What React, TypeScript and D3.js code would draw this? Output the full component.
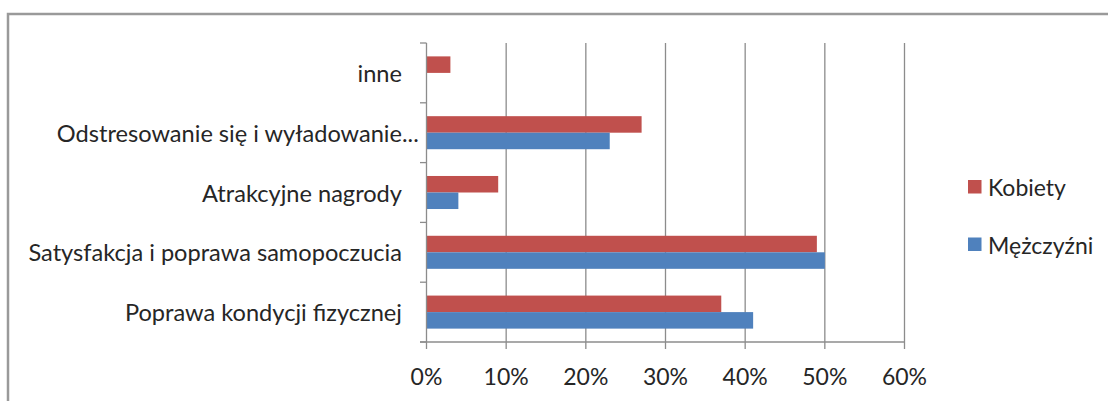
import React from 'react';
import * as d3 from 'd3';

const categories = [
  'Poprawa kondycji fizycznej',
  'Satysfakcja i poprawa samopoczucia',
  'Atrakcyjne nagrody',
  'Odstresowanie się i wyładowanie...',
  'inne',
];
const kobiety = [37, 49, 9, 27, 3];
const mezczyzni = [41, 50, 4, 23, 0];
const seriesNames = ['Kobiety', 'Mężczyźni'];
const seriesColors = ['#C0504D', '#4F81BD'];
const xTicks = [0, 10, 20, 30, 40, 50, 60];

const W = 1108;
const H = 401;
const FONT = 'Lato, "Open Sans", sans-serif';

export default function App() {
  const x = d3.scaleLinear().domain([0, 60]).range([426.5, 904.5]);
  const y = d3
    .scaleBand<string>()
    .domain([...categories].reverse())
    .range([43, 342])
    .paddingInner(0)
    .paddingOuter(0);
  const sub = d3
    .scaleBand<string>()
    .domain(seriesNames)
    .range([0, y.bandwidth()])
    .paddingInner(0)
    .paddingOuter(0.81);
  const values = [kobiety, mezczyzni];
  const boundaries = [...y.domain().map((c) => y(c) as number), 342];

  return (
    <svg
      width={W}
      height={H}
      style={{ position: 'absolute', left: 0, top: 0, background: '#fff' }}
      fontFamily={FONT}
    >
      <rect x={0} y={0} width={W} height={H} fill="#fff" />
      <rect x={8} y={14} width={1300} height={600} fill="none" stroke="#9a9a9a" strokeWidth={2.5} />
      {/* gridlines */}
      {xTicks.slice(1).map((t) => (
        <line key={'g' + t} x1={x(t)} x2={x(t)} y1={43} y2={342} stroke="#8c8c8c" strokeWidth={1.3} />
      ))}
      {/* x axis ticks */}
      {xTicks.map((t) => (
        <line key={'xt' + t} x1={x(t)} x2={x(t)} y1={342} y2={349} stroke="#8c8c8c" strokeWidth={1.3} />
      ))}
      {/* bars */}
      {categories.map((c, i) =>
        seriesNames.map((s, j) => (
          <rect
            key={c + s}
            x={x(0)}
            y={(y(c) as number) + (sub(s) as number)}
            width={x(values[j][i]) - x(0)}
            height={sub.bandwidth()}
            fill={seriesColors[j]}
          />
        ))
      )}
      {/* axes */}
      <line x1={x(0)} x2={x(0)} y1={43} y2={342} stroke="#8c8c8c" strokeWidth={1.3} />
      <line x1={420} x2={x(60)} y1={342} y2={342} stroke="#8c8c8c" strokeWidth={1.3} />
      {boundaries.map((b, i) => (
        <line key={'yt' + i} x1={420} x2={x(0)} y1={b} y2={b} stroke="#8c8c8c" strokeWidth={1.3} />
      ))}
      {/* category labels */}
      {categories.map((c) => {
        const cy = (y(c) as number) + y.bandwidth() / 2;
        const trunc = c.endsWith('...');
        const base = trunc ? c.slice(0, -3) : c;
        return (
          <g key={'l' + c}>
            <text
              x={402}
              y={cy}
              textAnchor="end"
              dominantBaseline="central"
              fontSize={23.6}
              fill="#262626"
            >
              {base}
            </text>
            {trunc && (
              <text x={402} y={cy} textAnchor="start" dominantBaseline="central" fontSize={23.6} fill="#262626">
                ...
              </text>
            )}
          </g>
        );
      })}
      {/* x tick labels */}
      {xTicks.map((t) => (
        <text
          key={'xl' + t}
          x={x(t)}
          y={376}
          textAnchor="middle"
          dominantBaseline="central"
          fontSize={23}
          fill="#262626"
        >
          {t + '%'}
        </text>
      ))}
      {/* legend */}
      {seriesNames.map((s, j) => (
        <g key={'lg' + s} transform={`translate(968, ${180 + j * 57.5})`}>
          <rect x={0} y={0} width={13.5} height={13.5} fill={seriesColors[j]} />
          <text x={20} y={7} dominantBaseline="central" fontSize={23} fill="#262626">
            {s}
          </text>
        </g>
      ))}
    </svg>
  );
}
